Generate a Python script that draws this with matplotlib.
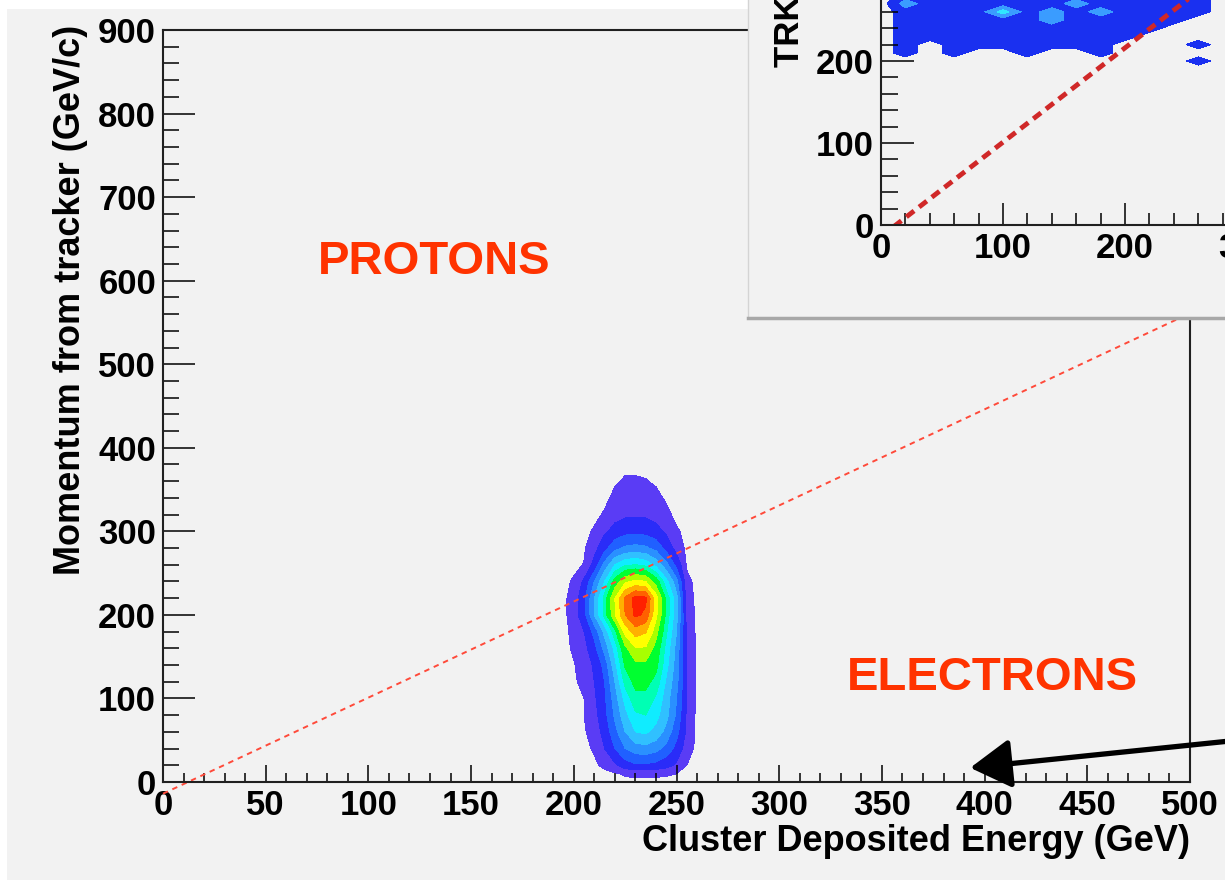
import numpy as np
import matplotlib.pyplot as plt
from matplotlib.patches import Rectangle
from matplotlib.ticker import MultipleLocator

plt.rcParams['font.family'] = ['Liberation Sans', 'DejaVu Sans']
plt.rcParams['font.weight'] = 'bold'
plt.rcParams['axes.labelweight'] = 'bold'

BG = '#f2f2f2'

# main plot: relative counts of the 2D distribution (estimated from the colour bands)
energy_bins = [190, 195, 200, 205, 210, 215, 220, 225, 230, 235, 240, 245, 250, 255, 260, 265]
momentum_bins = [0, 10, 20, 40, 60, 80, 100, 120, 140, 160, 180, 200, 220, 240, 260, 280, 300, 320, 340, 360, 380]
density = [
    [0, 0, 0, 0, 0, 0, 0, 0, 0, 0, 0, 0, 0, 0, 0, 0],
    [0, 0, 0, 0, 0, 0, 0.5, 1.5, 2, 2, 1.8, 1.5, 1, 0, 0, 0],
    [0, 0, 0, 0, 0.3, 2, 5, 9, 11, 11, 10, 8, 5, 1, 0, 0],
    [0, 0, 0, 0, 1.5, 6, 12, 18, 21, 22, 20, 16, 10, 3, 0, 0],
    [0, 0, 0, 0.5, 3, 8, 16, 24, 30, 31, 28, 22, 14, 5, 0, 0],
    [0, 0, 0, 1, 4, 10, 19, 28, 35, 36, 32, 26, 17, 5, 0, 0],
    [0, 0, 0, 1, 5, 11, 21, 32, 40, 40, 35, 27, 18, 6, 0, 0],
    [0, 0, 0.5, 2, 6, 12, 24, 38, 44, 44, 40, 29, 20, 6, 0, 0],
    [0, 0, 0.8, 2.5, 7, 14, 28, 43, 48, 48, 44, 32, 21, 6, 0, 0],
    [0, 0, 1.5, 4, 10, 20, 32, 48, 57, 57, 47, 34, 22, 6, 0, 0],
    [0, 0, 2, 6, 14, 26, 40, 61, 73, 69, 53, 37, 24, 5, 0, 0],
    [0, 0, 3, 10, 24, 38, 57, 78, 90, 86, 60, 40, 26, 4, 0, 0],
    [0, 0, 3, 10, 24, 38, 58, 80, 92, 90, 62, 40, 26, 3, 0, 0],
    [0, 0, 1.5, 7, 18, 30, 45, 56, 60, 58, 46, 32, 20, 2, 0, 0],
    [0, 0, 0, 1.2, 8, 20, 30, 35, 36, 34, 28, 20, 10, 0.5, 0, 0],
    [0, 0, 0, 0.5, 4, 10, 16, 19, 20, 19, 16, 10, 4, 0, 0, 0],
    [0, 0, 0, 0, 1.5, 5, 8, 10, 10, 10, 8, 5, 1.5, 0, 0, 0],
    [0, 0, 0, 0, 0, 1.5, 4, 5, 5, 5, 4, 2, 0, 0, 0, 0],
    [0, 0, 0, 0, 0, 0, 2, 3, 3, 3, 2, 0.5, 0, 0, 0, 0],
    [0, 0, 0, 0, 0, 0, 0.5, 1.5, 1.5, 1.2, 0.5, 0, 0, 0, 0, 0],
    [0, 0, 0, 0, 0, 0, 0, 0, 0, 0, 0, 0, 0, 0, 0, 0],
]
levels = [1, 6, 12, 18, 24, 30, 36, 42, 50, 58, 68, 78, 88, 101]
band_colors = ['#5a3cf5', '#2a2cf8', '#2060ff', '#2a90ff', '#30c0ff', '#10ecff', '#00ffb4',
               '#00ff30', '#a8ff00', '#ffff00', '#ffb000', '#ff6000', '#ff2000']

# separation cut p = E line
cut_x = [0, 500]
cut_y = [-14, 561]

# inset: occupancy of the (partly visible) proton cloud
inset_energy = [0, 20, 40, 60, 80, 100, 120, 140, 160, 180, 200, 220, 240, 260, 280]
inset_momentum = [180, 190, 200, 210, 220, 230, 240, 250, 260, 270, 280]
inset_counts = [
    [0, 0, 0, 0, 0, 0, 0, 0, 0, 0, 0, 0, 0, 0, 0],
    [0, 0, 0, 0, 0, 0, 0, 0, 0, 0, 0, 0, 0, 0, 0],
    [0, 0, 0, 0, 0, 0, 0, 0, 0, 0, 0, 0, 0, 1, 0],
    [0, 1, 0, 1, 0, 0, 1, 0, 0, 1, 0, 0, 0, 0, 0],
    [0, 1, 0, 1, 1, 1, 1, 1, 1, 1, 0, 0, 0, 1, 0],
    [0, 1, 1, 1, 1, 1, 1, 1, 1, 1, 1, 0, 0, 0, 0],
    [0, 1, 1, 1, 1, 1, 1, 1, 1, 1, 1, 1, 0, 0, 0],
    [0, 1, 1, 1, 1, 1, 1, 2, 1, 1, 1, 1, 1, 0, 0],
    [0, 1, 1, 1, 1, 3, 1, 2, 1, 2, 1, 1, 1, 1, 0],
    [0, 2, 1, 1, 1, 1, 1, 1, 2, 1, 1, 1, 1, 1, 0],
    [0, 1, 1, 1, 1, 1, 1, 1, 1, 1, 1, 1, 1, 1, 0],
]

arrow_tip = (393, 17)
arrow_start = (535, 53)

fig = plt.figure(figsize=(12.25, 8.8), dpi=100)
fig.patch.set_facecolor('white')
fig.add_artist(Rectangle((7 / 1225, 0), 1, 1 - 9 / 880, transform=fig.transFigure,
                         facecolor=BG, edgecolor='none', zorder=-1))

ax = fig.add_axes([163 / 1225, 1 - 782 / 880, 1027 / 1225, 752 / 880])
ax.set_facecolor(BG)
ax.contourf(energy_bins, momentum_bins, density, levels=levels, colors=band_colors)
ax.plot(cut_x, cut_y, ls=(0, (2.8, 2.5)), color='#ff4a3a', lw=1.4, clip_on=False)

ax.set_xlim(0, 500)
ax.set_ylim(0, 900)
ax.xaxis.set_major_locator(MultipleLocator(50))
ax.xaxis.set_minor_locator(MultipleLocator(10))
ax.yaxis.set_major_locator(MultipleLocator(100))
ax.yaxis.set_minor_locator(MultipleLocator(20))
ax.tick_params(axis='x', which='major', direction='in', length=12, width=1.1, labelsize=25, pad=5)
ax.tick_params(axis='x', which='minor', direction='in', length=6.5, width=1.1)
ax.tick_params(axis='y', which='major', direction='in', length=23, width=1.1, labelsize=25, pad=5)
ax.tick_params(axis='y', which='minor', direction='in', length=11.5, width=1.1)
for s in ax.spines.values():
    s.set_linewidth(1.5)
    s.set_color('#202020')

ax.set_xlabel('Cluster Deposited Energy (GeV)', loc='right', fontsize=26)
ax.xaxis.set_label_coords(1.0, -0.056)
ax.set_ylabel('Momentum from tracker (GeV/c)', loc='top', fontsize=26)
ax.yaxis.set_label_coords(-0.073, 1.007)

ax.text(132, 622, 'PROTONS', color='#ff3300', fontsize=34, ha='center', va='center')
ax.text(404, 124, 'ELECTRONS', color='#ff3300', fontsize=34, ha='center', va='center')

ax.annotate('', xy=arrow_tip, xytext=arrow_start, annotation_clip=False,
            arrowprops=dict(arrowstyle='-|>,head_length=1.0,head_width=0.6', mutation_scale=25,
                            lw=3.8, color='black', shrinkA=0, shrinkB=0))

# pasted inset panel (top right, cropped by the figure edge)
panel = fig.add_axes([748 / 1225, 1 - 318 / 880, 0.5, 0.5])
panel.set_facecolor(BG)
panel.set_xticks([])
panel.set_yticks([])
panel.spines['top'].set_visible(False)
panel.spines['right'].set_visible(False)
panel.spines['left'].set_color('#d4d4d4')
panel.spines['left'].set_linewidth(1)
panel.spines['bottom'].set_color('#a8a8a8')
panel.spines['bottom'].set_linewidth(2.5)

ins = fig.add_axes([881 / 1225, 1 - 225 / 880, 610 / 1225, 410 / 880])
ins.set_facecolor('none')
ins.contourf(inset_energy, inset_momentum, inset_counts, levels=[0.5, 1.5, 2.5, 3.5],
             colors=['#1a30f0', '#3a9cff', '#30e6ff'])
ins.plot(cut_x, cut_y, ls=(0, (2, 1.3)), color='#d02828', lw=3.5)
ins.set_xlim(0, 500)
ins.set_ylim(0, 500)
ins.xaxis.set_major_locator(MultipleLocator(100))
ins.xaxis.set_minor_locator(MultipleLocator(20))
ins.yaxis.set_major_locator(MultipleLocator(100))
ins.yaxis.set_minor_locator(MultipleLocator(20))
ins.tick_params(axis='x', which='major', direction='in', length=16, width=1.1, labelsize=25, pad=5)
ins.tick_params(axis='x', which='minor', direction='in', length=8.6, width=1.1)
ins.tick_params(axis='y', which='major', direction='in', length=24, width=1.1, labelsize=25, pad=5)
ins.tick_params(axis='y', which='minor', direction='in', length=12, width=1.1)
for s in ins.spines.values():
    s.set_linewidth(1.5)
    s.set_color('#202020')
fig.text(790 / 1225, 1 - 67 / 880, 'TRK Momentum (GeV/c)', rotation=90,
         ha='center', va='bottom', fontsize=25)

fig.savefig('out.png', dpi=100, facecolor=fig.get_facecolor())
